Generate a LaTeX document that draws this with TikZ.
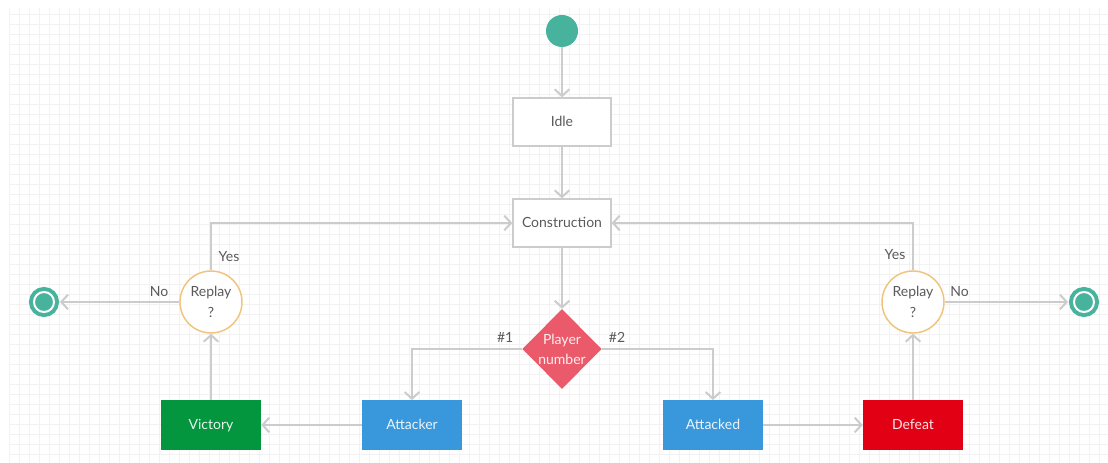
\documentclass[tikz,border=0pt]{standalone}
\usepackage{fontspec}
\setmainfont{Lato}
\usetikzlibrary{shapes.geometric,arrows.meta}

\definecolor{gridc}{RGB}{242,242,242}
\definecolor{linec}{RGB}{204,204,204}
\definecolor{textc}{RGB}{90,90,90}
\definecolor{tealc}{RGB}{72,179,157}
\definecolor{replayc}{RGB}{240,196,125}
\definecolor{playerc}{RGB}{234,90,106}
\definecolor{bluec}{RGB}{56,152,219}
\definecolor{greenc}{RGB}{3,150,62}
\definecolor{redc}{RGB}{226,0,20}

\begin{document}
\begin{tikzpicture}[x=0.75pt,y=0.75pt,yscale=-1,xscale=1,
  font=\fontsize{10.5}{12}\selectfont,
  gridline/.style={draw=gridc,line width=0.75pt},
  flow/.style={draw=linec,line width=1.5pt,-{Straight Barb[length=5pt,width=11pt]}},
  lbl/.style={text=textc,inner sep=2pt},
  startstate/.style={circle,fill=tealc,minimum size=24pt,inner sep=0pt},
  endstate/.style={circle,fill=tealc,draw=tealc,double=white,double distance=1.5pt,line width=3pt,minimum size=15pt,inner sep=0pt,outer sep=4.5pt},
  statebox/.style={rectangle,draw=linec,line width=1.5pt,fill=white,minimum width=73pt,minimum height=35.5pt,text height=7.5pt,text depth=0pt,text=textc},
  colorbox/.style={rectangle,minimum width=75pt,minimum height=37pt,text height=7.5pt,text depth=0pt,text=white,text opacity=0.9},
  replay/.style={circle,draw=replayc,line width=1.1pt,fill=white,minimum size=46.5pt,inner sep=0pt,align=center,text=textc},
  choice/.style={diamond,fill=playerc,minimum width=59.5pt,minimum height=60pt,inner sep=0pt,align=center,text=white,text opacity=0.9}
]
%uncomment if require: \path (0,463); %set diagram left start at 0, and has height of 463
\useasboundingbox (0,0) rectangle (1108,463);
\fill[white] (0,0) rectangle (1108,463);

%Grid
\foreach \x in {9,19,...,1109} \draw[gridline] (\x,8) -- (\x,463);
\foreach \y in {15,25,...,455} \draw[gridline] (9,\y) -- (1108,\y);

%Shape: Circle (start)
\node[startstate] (start) at (562,31) {};
%Shape: Rectangle
\node[statebox] (idle) at (562,122) {Idle};
\node[statebox] (construction) at (562,223) {Construction};
%Shape: Diamond
\node[choice] (player) at (562,349) {Player\\[3pt]number};
%Shape: Rectangle (filled)
\node[colorbox,fill=bluec] (attacker) at (412,425) {Attacker};
\node[colorbox,fill=bluec] (attacked) at (713,425) {Attacked};
\node[colorbox,fill=greenc] (victory) at (211,425) {Victory};
\node[colorbox,fill=redc] (defeat) at (913,425) {Defeat};
%Shape: Circle (replay)
\node[replay] (replayL) at (211,302) {Replay\\[4pt]?};
\node[replay] (replayR) at (913,302) {Replay\\[4pt]?};
%Shape: Circle (end)
\node[endstate] (endL) at (44,302) {};
\node[endstate] (endR) at (1084,302) {};

%Straight Lines
\draw[flow] (start) -- (idle);
\draw[flow] (idle) -- (construction);
\draw[flow] (construction) -- (player);
\draw[flow] (player.west) -| node[lbl,pos=0.077,above=2pt] {\#1} (attacker.north);
\draw[flow] (player.east) -| node[lbl,pos=0.068,above=2pt] {\#2} (attacked.north);
\draw[flow] (attacker) -- (victory);
\draw[flow] (attacked) -- (defeat);
\draw[flow] (victory) -- (replayL);
\draw[flow] (defeat) -- (replayR);
\draw[flow] (replayL.north) |- node[lbl,pos=0.15,right=3pt] {Yes} (construction.west);
\draw[flow] (replayR.north) |- node[lbl,pos=0.17,left=3pt] {Yes} (construction.east);
\draw[flow] (replayL) -- node[lbl,pos=0.17,above=1pt] {No} (endL);
\draw[flow] (replayR) -- node[lbl,pos=0.12,above=1pt] {No} (endR);

\end{tikzpicture}
\end{document}
